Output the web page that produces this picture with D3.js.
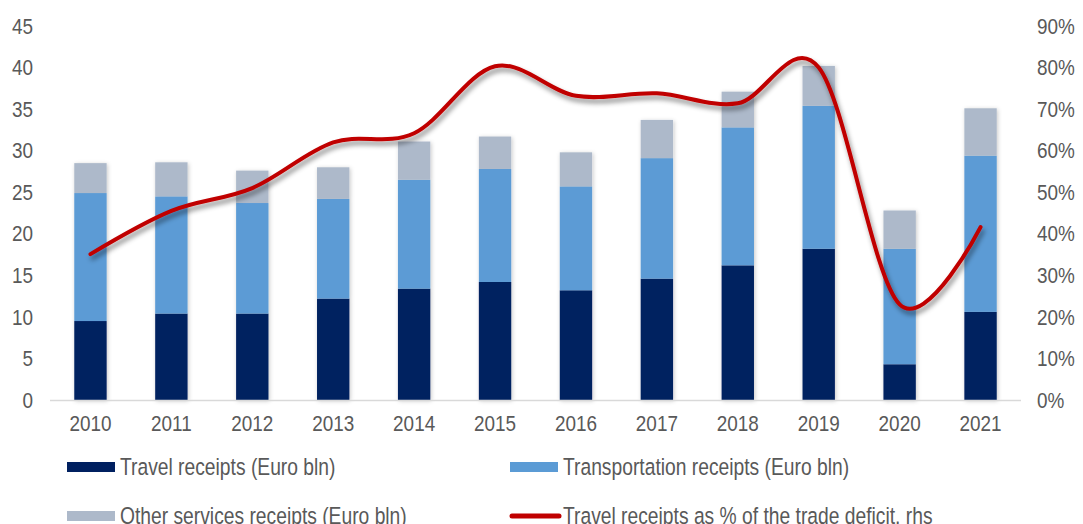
<!DOCTYPE html>
<html>
<head>
<meta charset="utf-8">
<script src="https://cdn.jsdelivr.net/npm/d3@7.9.0/dist/d3.min.js"></script>
<style>
  html, body { margin: 0; padding: 0; background: #fff; }
  svg { display: block; font-family: 'Liberation Sans', Arial, sans-serif; }
  .tick-label { fill: #595959; font-size: 22px; }
  .legend-label { fill: #595959; font-size: 23.5px; }
</style>
</head>
<body>
<svg id="chart" width="1083" height="524"></svg>
<script>
const years = ['2010', '2011', '2012', '2013', '2014', '2015', '2016', '2017', '2018', '2019', '2020', '2021'];

// Euro bln, stacked segments
const travelReceipts = [9.5, 10.4, 10.4, 12.2, 13.4, 14.2, 13.2, 14.6, 16.2, 18.2, 4.3, 10.6];
const transportReceipts = [15.4, 14.1, 13.3, 12.0, 13.1, 13.6, 12.5, 14.5, 16.6, 17.2, 13.9, 18.8];
const otherReceipts = [3.6, 4.1, 3.9, 3.8, 4.6, 3.9, 4.1, 4.6, 4.3, 4.8, 4.6, 5.7];

// travel receipts as % of trade deficit (rhs)
const travelShare = [35.1, 45.5, 51.0, 62.0, 64.2, 80.3, 73.2, 73.8, 71.4, 80.0, 23.0, 41.6];

const leftTicks = [0, 5, 10, 15, 20, 25, 30, 35, 40, 45];
const rightTicks = [0, 10, 20, 30, 40, 50, 60, 70, 80, 90];

const seriesNames = ['Travel receipts (Euro bln)', 'Transportation receipts (Euro bln)', 'Other services receipts (Euro bln)'];
const lineName = 'Travel receipts as % of the trade deficit, rhs';
const colors = ['#002060', '#5B9BD5', '#ADB9CA'];
const lineColor = '#C00000';

// the source uses a narrow face; squeeze the regular one horizontally
const TICK_SQUEEZE = 0.86;
const LEGEND_SQUEEZE = 0.82;

const svg = d3.select('#chart');

const defs = svg.append('defs');
const lineShadow = defs.append('filter').attr('id', 'line-shadow')
  .attr('x', '-10%').attr('y', '-20%').attr('width', '120%').attr('height', '140%');
lineShadow.append('feDropShadow')
  .attr('dx', 2).attr('dy', 4).attr('stdDeviation', 2.5)
  .attr('flood-color', '#000').attr('flood-opacity', 0.45);

const barShadow = defs.append('filter').attr('id', 'bar-shadow')
  .attr('x', '-30%').attr('y', '-10%').attr('width', '160%').attr('height', '120%');
barShadow.append('feDropShadow')
  .attr('dx', 1).attr('dy', 1).attr('stdDeviation', 2)
  .attr('flood-color', '#000').attr('flood-opacity', 0.22);

const x = d3.scaleBand().domain(years).range([50, 1021]).paddingInner(0.6).paddingOuter(0.3);
const y = d3.scaleLinear().domain([0, 45]).range([400, 26]);
const yRight = d3.scaleLinear().domain([0, 90]).range([400, 26]);

const rows = years.map((year, i) => ({
  year,
  travel: travelReceipts[i],
  transport: transportReceipts[i],
  other: otherReceipts[i],
}));

const stacked = d3.stack().keys(['travel', 'transport', 'other'])(rows);

function squeezed(sel, getX, getY, k) {
  sel.attr('transform', (d, i) => `translate(${getX(d, i)},${getY(d, i)}) scale(${k},1)`);
}

// left axis labels
svg.append('g')
  .selectAll('text')
  .data(leftTicks)
  .join('text')
  .attr('class', 'tick-label')
  .attr('dy', '0.35em')
  .attr('text-anchor', 'end')
  .call(squeezed, () => 33, (d) => y(d), TICK_SQUEEZE)
  .text((d) => d);

// right axis labels
svg.append('g')
  .selectAll('text')
  .data(rightTicks)
  .join('text')
  .attr('class', 'tick-label')
  .attr('dy', '0.35em')
  .attr('text-anchor', 'start')
  .call(squeezed, () => 1037, (d) => yRight(d), TICK_SQUEEZE)
  .text((d) => d + '%');

// bars
svg.append('g')
  .attr('filter', 'url(#bar-shadow)')
  .selectAll('g')
  .data(stacked)
  .join('g')
  .attr('fill', (d, i) => colors[i])
  .selectAll('rect')
  .data((d) => d)
  .join('rect')
  .attr('x', (d) => x(d.data.year))
  .attr('width', x.bandwidth())
  .attr('y', (d) => y(d[1]))
  .attr('height', (d) => y(d[0]) - y(d[1]));

// category axis
svg.append('line')
  .attr('x1', 50).attr('x2', 1021)
  .attr('y1', y(0) + 0.5).attr('y2', y(0) + 0.5)
  .attr('stroke', '#D9D9D9').attr('stroke-width', 1.5);

svg.append('g')
  .selectAll('text')
  .data(years)
  .join('text')
  .attr('class', 'tick-label')
  .attr('dy', '0.35em')
  .attr('text-anchor', 'middle')
  .call(squeezed, (d) => x(d) + x.bandwidth() / 2, () => 423, TICK_SQUEEZE)
  .text((d) => d);

// smoothed share line
const line = d3.line()
  .x((d, i) => x(years[i]) + x.bandwidth() / 2)
  .y((d) => yRight(d))
  .curve(d3.curveCardinal.tension(0));

svg.append('path')
  .datum(travelShare)
  .attr('d', line)
  .attr('fill', 'none')
  .attr('stroke', lineColor)
  .attr('stroke-width', 4)
  .attr('stroke-linecap', 'round')
  .attr('filter', 'url(#line-shadow)');

// legend (second row sits at the bottom edge, as in the source)
const legendItems = [
  { name: seriesNames[0], type: 'rect', color: colors[0], x: 67, y: 467 },
  { name: seriesNames[1], type: 'rect', color: colors[1], x: 510, y: 467 },
  { name: seriesNames[2], type: 'rect', color: colors[2], x: 67, y: 516 },
  { name: lineName, type: 'line', color: lineColor, x: 510, y: 516 },
];

const legend = svg.append('g')
  .selectAll('g')
  .data(legendItems)
  .join('g')
  .attr('transform', (d) => `translate(${d.x},${d.y})`);

legend.filter((d) => d.type === 'rect')
  .append('rect')
  .attr('x', 0).attr('y', -5)
  .attr('width', 48).attr('height', 10)
  .attr('fill', (d) => d.color);

legend.filter((d) => d.type === 'line')
  .append('line')
  .attr('x1', 2).attr('x2', 49)
  .attr('y1', 0).attr('y2', 0)
  .attr('stroke', (d) => d.color)
  .attr('stroke-width', 5)
  .attr('stroke-linecap', 'round');

legend.append('text')
  .attr('class', 'legend-label')
  .attr('dy', '0.35em')
  .call(squeezed, () => 53, () => 0, LEGEND_SQUEEZE)
  .text((d) => d.name);
</script>
</body>
</html>
